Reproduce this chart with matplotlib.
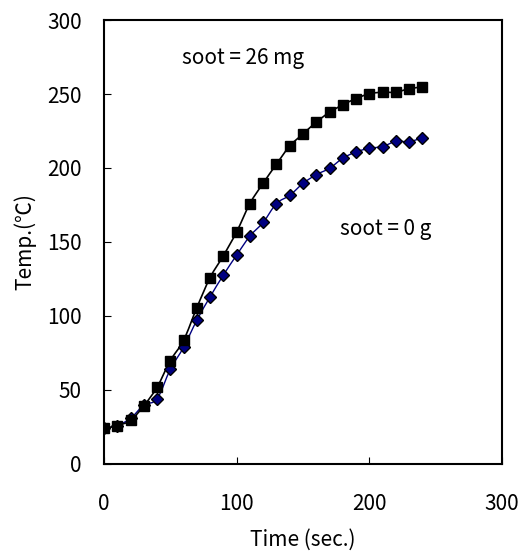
import matplotlib

matplotlib.use("Agg")
import matplotlib.pyplot as plt
from matplotlib.path import Path
from matplotlib.patches import PathPatch

plt.rcParams["font.family"] = ["Noto Sans CJK JP", "DejaVu Sans"]

time_s = [0, 10, 20, 30, 40, 50, 60, 70, 80, 90, 100, 110, 120,
          130, 140, 150, 160, 170, 180, 190, 200, 210, 220, 230, 240]
temp_soot_26mg = [24, 26, 29.5, 39.3, 51.9, 69.9, 83.6, 105.7, 126, 140.8, 156.9, 176, 189.8,
                  202.6, 214.9, 223, 231, 237.7, 242.7, 246.9, 250.2, 251.2, 251.2, 253.6, 254.7]
temp_soot_0g = [24, 26, 30.8, 39.8, 44, 64, 78.9, 97.2, 113, 127.7, 141.2, 154, 163.3,
                176, 181.5, 189.6, 195.5, 199.8, 206.6, 210.9, 213.3, 214.5, 218, 217.8, 220.4]

x_ticks = [0, 100, 200, 300]
y_ticks = [0, 50, 100, 150, 200, 250, 300]


def smooth_path(xs, ys):
    # Excel-style smoothed line: Catmull-Rom segments as cubic Beziers
    pts = list(zip(xs, ys))
    verts = [pts[0]]
    codes = [Path.MOVETO]
    n = len(pts)
    for i in range(n - 1):
        p0 = pts[i - 1] if i > 0 else pts[i]
        p1 = pts[i]
        p2 = pts[i + 1]
        p3 = pts[i + 2] if i + 2 < n else pts[i + 1]
        c1 = (p1[0] + (p2[0] - p0[0]) / 6, p1[1] + (p2[1] - p0[1]) / 6)
        c2 = (p2[0] - (p3[0] - p1[0]) / 6, p2[1] - (p3[1] - p1[1]) / 6)
        verts += [c1, c2, p2]
        codes += [Path.CURVE4] * 3
    return Path(verts, codes)


fig = plt.figure(figsize=(5.32, 5.51), dpi=100)
ax = fig.add_axes([0.1955, 0.1579, 0.7481, 0.8058])

ax.add_patch(PathPatch(smooth_path(time_s, temp_soot_0g), facecolor="none",
                       edgecolor="#000080", lw=1.0, zorder=2))
ax.add_patch(PathPatch(smooth_path(time_s, temp_soot_26mg), facecolor="none",
                       edgecolor="black", lw=1.2, zorder=3))
ax.plot(time_s, temp_soot_0g, ls="none", marker="D", ms=6.6,
        mfc="#000080", mec="black", mew=1.0, zorder=4)
ax.plot(time_s, temp_soot_26mg, ls="none", marker="s", ms=7.0,
        mfc="black", mec="black", zorder=5)

ax.set_xlim(0, 300)
ax.set_ylim(0, 300)
ax.set_xticks(x_ticks)
ax.set_yticks(y_ticks)
ax.tick_params(direction="in", length=5, width=0.8, labelsize=15,
               top=False, right=False)
ax.tick_params(axis="x", pad=21)
ax.tick_params(axis="y", pad=16)
for s in ax.spines.values():
    s.set_linewidth(1.5)

ax.set_xlabel("Time (sec.)", fontsize=15, labelpad=10)
ax.set_ylabel("Temp.(℃)", fontsize=15, labelpad=8)

ax.text(58.8, 274, "soot = 26 mg", fontsize=15, va="center", ha="left")
ax.text(178, 158.5, "soot = 0 g", fontsize=15, va="center", ha="left")

fig.savefig("out.png", dpi=100)
